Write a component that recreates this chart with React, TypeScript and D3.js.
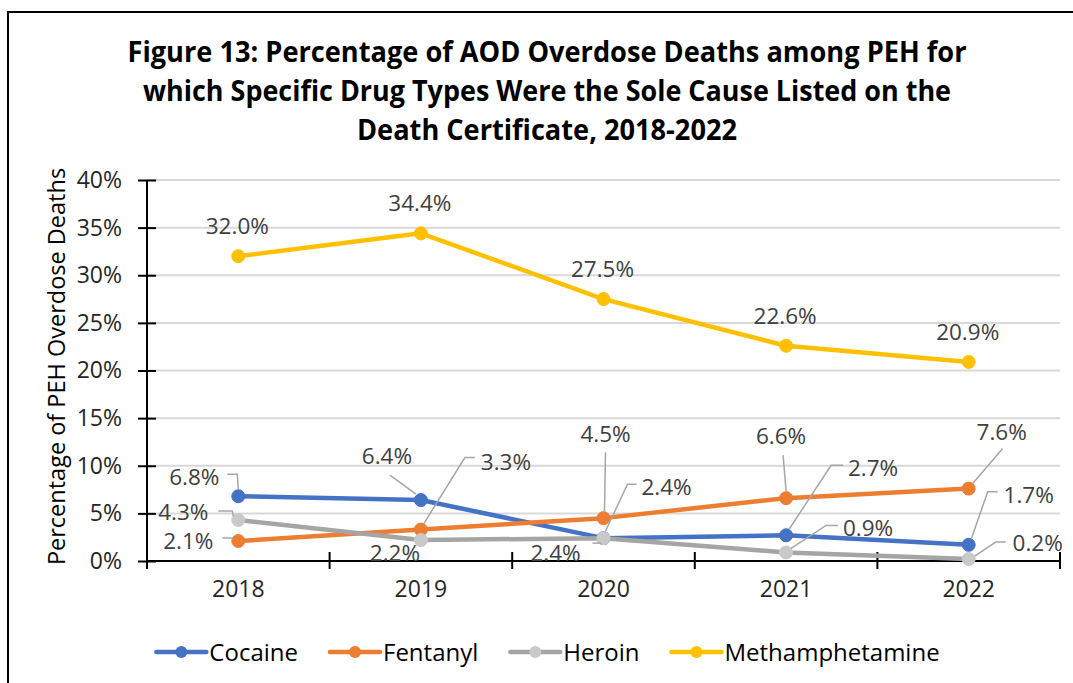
import React, { useEffect, useRef } from "react";
import * as d3 from "d3";

// Years on the category axis
const years = ["2018", "2019", "2020", "2021", "2022"];

// Share of AOD overdose deaths among PEH (percent) per drug type
const cocaine = [6.8, 6.4, 2.4, 2.7, 1.7];
const fentanyl = [2.1, 3.3, 4.5, 6.6, 7.6];
const heroin = [4.3, 2.2, 2.4, 0.9, 0.2];
const methamphetamine = [32.0, 34.4, 27.5, 22.6, 20.9];

// Value-axis ticks (percent)
const yTicks = [0, 5, 10, 15, 20, 25, 30, 35, 40];

const titleLines = [
  "Figure 13: Percentage of AOD Overdose Deaths among PEH for",
  "which Specific Drug Types Were the Sole Cause Listed on the",
  "Death Certificate, 2018-2022",
];
const titleWidths = [839, 808, 380];

const yAxisTitle = "Percentage of PEH Overdose Deaths";

type Offset = [number, number];
interface LabelPlacement {
  dx: number;
  dy: number;
  leader?: Offset[];
}

// Data-label placement relative to each point, with optional leader lines
const cocaineLabels: LabelPlacement[] = [
  { dx: -44, dy: -19, leader: [[-11, -22], [-1, -22], [0, -7]] },
  { dx: -34, dy: -44, leader: [[-31, -25], [-5, -6]] },
  { dx: 63, dy: -51, leader: [[33, -54], [24, -54], [2, -7]] },
  { dx: 87, dy: -67, leader: [[57, -70], [45, -70], [3, -6]] },
  { dx: 60, dy: -50, leader: [[29, -53], [19, -53], [3, -7]] },
];
const fentanylLabels: LabelPlacement[] = [
  { dx: -50, dy: 0, leader: [[-16, -3], [-6, -3], [-5, -1]] },
  { dx: 85, dy: -68, leader: [[54, -72], [44, -72], [3, -6]] },
  { dx: 2, dy: -84, leader: [[2, -66], [1, -7]] },
  { dx: -5, dy: -62, leader: [[-3, -43], [0, -7]] },
  { dx: 33, dy: -57, leader: [[34, -40], [4, -5]] },
];
const heroinLabels: LabelPlacement[] = [
  { dx: -55, dy: -8, leader: [[-20, -9], [-6, -9], [-5, -4]] },
  { dx: -26, dy: 13 },
  { dx: -48, dy: 15, leader: [[-11, 5], [-4, 5], [-2, 5]] },
  { dx: 82, dy: -25, leader: [[52, -27], [40, -27], [5, -4]] },
  { dx: 69, dy: -16, leader: [[37, -17], [27, -17], [6, -3]] },
];
const methLabels: LabelPlacement[] = years.map(() => ({ dx: -1, dy: -30 }));

interface Series {
  name: string;
  values: number[];
  color: string;
  marker: string;
  labels: LabelPlacement[];
}

const series: Series[] = [
  { name: "Cocaine", values: cocaine, color: "#4472C4", marker: "#4472C4", labels: cocaineLabels },
  { name: "Fentanyl", values: fentanyl, color: "#ED7D31", marker: "#ED7D31", labels: fentanylLabels },
  { name: "Heroin", values: heroin, color: "#A5A5A5", marker: "#C9C9C9", labels: heroinLabels },
  { name: "Methamphetamine", values: methamphetamine, color: "#FFC000", marker: "#FFC000", labels: methLabels },
];

const W = 1073;
const H = 683;
const FONT = "'Open Sans', 'Noto Sans', sans-serif";
const plot = { left: 147, right: 1060, top: 180, bottom: 561 };

export default function App() {
  const ref = useRef<SVGSVGElement>(null);

  useEffect(() => {
    const svg = d3.select(ref.current);
    svg.selectAll("*").remove();

    const x = d3.scaleBand<string>().domain(years).range([plot.left, plot.right]);
    const cx = (yr: string) => (x(yr) as number) + x.bandwidth() / 2;
    const y = d3.scaleLinear().domain([0, 40]).range([plot.bottom, plot.top]);

    // white background and frame
    svg.append("rect").attr("width", W).attr("height", H).attr("fill", "#fff");
    svg
      .append("rect")
      .attr("x", 8)
      .attr("y", 12)
      .attr("width", 1200)
      .attr("height", 900)
      .attr("fill", "none")
      .attr("stroke", "#000")
      .attr("stroke-width", 2);

    // title
    titleLines.forEach((line, i) => {
      const t = svg
        .append("text")
        .attr("x", 547)
        .attr("y", 62 + i * 39)
        .attr("text-anchor", "middle")
        .attr("font-family", FONT)
        .attr("font-weight", 700)
        .attr("font-size", 28)
        .attr("fill", "#000")
        .text(line);
      const node = t.node() as SVGTextElement;
      if (node.getComputedTextLength() > titleWidths[i]) {
        t.attr("textLength", titleWidths[i]).attr("lengthAdjust", "spacingAndGlyphs");
      }
    });

    // horizontal gridlines
    svg
      .append("g")
      .selectAll("line")
      .data(yTicks.filter((d) => d > 0))
      .join("line")
      .attr("x1", plot.left)
      .attr("x2", plot.right)
      .attr("y1", (d) => y(d))
      .attr("y2", (d) => y(d))
      .attr("stroke", "#D9D9D9")
      .attr("stroke-width", 2);

    // value axis
    const yAxis = svg
      .append("g")
      .attr("transform", `translate(${plot.left},0)`)
      .call(d3.axisLeft(y).tickValues(yTicks).tickSize(9).tickPadding(16).tickFormat((d) => `${d}%`));
    yAxis.select(".domain").attr("stroke", "#000").attr("stroke-width", 2).attr("d", `M0,${plot.top}V${plot.bottom}`);
    yAxis.selectAll(".tick line").attr("stroke", "#000").attr("stroke-width", 2).attr("x2", -9).attr("x1", 9);
    yAxis
      .selectAll(".tick text")
      .attr("font-family", FONT)
      .attr("font-size", 23)
      .attr("fill", "#262626")
      .attr("x", -25);

    // category axis
    const xAxis = svg
      .append("g")
      .attr("transform", `translate(0,${plot.bottom})`)
      .call(d3.axisBottom(x).tickSize(0).tickPadding(0));
    xAxis.select(".domain").attr("stroke", "#000").attr("stroke-width", 2).attr("d", `M${plot.left},0H${plot.right}`);
    xAxis.selectAll(".tick line").remove();
    xAxis
      .selectAll(".tick text")
      .attr("font-family", FONT)
      .attr("font-size", 23)
      .attr("fill", "#262626")
      .attr("y", 36)
      .attr("dy", "0");
    const boundaries = years.map((yr) => x(yr) as number).concat([plot.right]);
    xAxis
      .append("g")
      .selectAll("line")
      .data(boundaries)
      .join("line")
      .attr("x1", (d) => d)
      .attr("x2", (d) => d)
      .attr("y1", -9)
      .attr("y2", 8)
      .attr("stroke", "#000")
      .attr("stroke-width", 2);

    // axis title
    svg
      .append("text")
      .attr("transform", `translate(65,${(plot.top + plot.bottom) / 2 - 4}) rotate(-90)`)
      .attr("text-anchor", "middle")
      .attr("font-family", FONT)
      .attr("font-size", 23.5)
      .attr("fill", "#000")
      .text(yAxisTitle);

    // series lines and markers
    const lineGen = d3
      .line<number>()
      .x((_, i) => cx(years[i]))
      .y((d) => y(d));

    series.forEach((s) => {
      const g = svg.append("g");
      g.append("path")
        .attr("d", lineGen(s.values) as string)
        .attr("fill", "none")
        .attr("stroke", s.color)
        .attr("stroke-width", 4.5)
        .attr("stroke-linejoin", "round")
        .attr("stroke-linecap", "round");
      g.selectAll("circle")
        .data(s.values)
        .join("circle")
        .attr("cx", (_, i) => cx(years[i]))
        .attr("cy", (d) => y(d))
        .attr("r", 6.5)
        .attr("fill", s.marker)
        .attr("stroke", s.marker)
        .attr("stroke-width", 1);
    });

    // data labels with leader lines
    const leaderGen = d3.line<Offset>();
    series.forEach((s) => {
      const g = svg.append("g");
      s.values.forEach((v, i) => {
        const px = cx(years[i]);
        const py = y(v);
        const lp = s.labels[i];
        if (lp.leader) {
          g.append("path")
            .attr("d", leaderGen(lp.leader.map(([a, b]) => [px + a, py + b] as Offset)) as string)
            .attr("fill", "none")
            .attr("stroke", "#A6A6A6")
            .attr("stroke-width", 1.5);
        }
        g.append("text")
          .attr("x", px + lp.dx)
          .attr("y", py + lp.dy)
          .attr("dy", "0.36em")
          .attr("text-anchor", "middle")
          .attr("font-family", FONT)
          .attr("font-size", 22.5)
          .attr("fill", "#404040")
          .text(`${v.toFixed(1)}%`);
      });
    });

    // legend, centred under the plot
    const legend = svg.append("g");
    const swatch = 50;
    const gapText = 3;
    const gapItem = 32;
    let cursor = 0;
    series.forEach((s) => {
      const item = legend.append("g").attr("transform", `translate(${cursor},0)`);
      item
        .append("line")
        .attr("x1", 0)
        .attr("x2", swatch)
        .attr("y1", 0)
        .attr("y2", 0)
        .attr("stroke", s.color)
        .attr("stroke-width", 4.5)
        .attr("stroke-linecap", "round");
      item
        .append("circle")
        .attr("cx", swatch / 2)
        .attr("cy", 0)
        .attr("r", 6)
        .attr("fill", s.marker);
      const t = item
        .append("text")
        .attr("x", swatch + gapText)
        .attr("y", 0)
        .attr("dy", "0.36em")
        .attr("font-family", FONT)
        .attr("font-size", 24)
        .attr("fill", "#000")
        .text(s.name);
      const tw = (t.node() as SVGTextElement).getComputedTextLength();
      cursor += swatch + gapText + tw + gapItem;
    });
    const total = cursor - gapItem;
    legend.attr("transform", `translate(${548 - total / 2},652)`);
  }, []);

  return (
    <svg
      ref={ref}
      width={W}
      height={H}
      style={{ position: "absolute", left: 0, top: 0, display: "block" }}
    />
  );
}
